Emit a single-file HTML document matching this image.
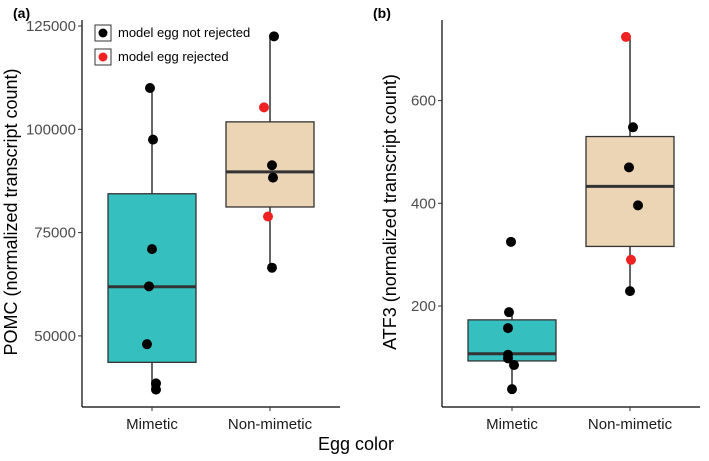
<!DOCTYPE html>
<html><head><meta charset="utf-8"><style>
body{margin:0;background:#fff;width:709px;height:456px;overflow:hidden}
svg{font-family:"Liberation Sans",sans-serif}
</style></head><body>
<svg id="c" width="709" height="456"></svg>
<script>
const categories=["Mimetic","Non-mimetic"];
const pomcTicks=[50000,75000,100000,125000];
const pomcBoxes=[{q1:43600,med:61900,q3:84400,lo:37000,hi:110000},{q1:81200,med:89700,q3:101800,lo:66500,hi:122500}];
const pomcMimetic=[110000,97500,71000,62000,48000,38500,37000];
const pomcMimeticRej=[0,0,0,0,0,0,0];
const pomcMimeticJit=[-2,1,0,-3,-5,4,4];
const pomcNon=[122500,105300,91300,88300,78900,66500];
const pomcNonRej=[0,1,0,0,1,0];
const pomcNonJit=[4,-6,2,3,-2,2];
const atfTicks=[200,400,600];
const atfBoxes=[{q1:93,med:107,q3:173,lo:38,hi:187},{q1:316,med:433,q3:530,lo:228,hi:722}];
const atfMimetic=[325,188,157,105,98,85,38];
const atfMimeticRej=[0,0,0,0,0,0,0];
const atfMimeticJit=[-1,-3,-4,-4,-4,2,0];
const atfNon=[724,548,470,396,290,229];
const atfNonRej=[1,0,0,0,1,0];
const atfNonJit=[-4,3,-1,8,1,0];

const NS="http://www.w3.org/2000/svg";
const svg=document.getElementById('c');
function mk(t,a,p){const e=document.createElementNS(NS,t);for(const k in a)e.setAttribute(k,a[k]);(p||svg).appendChild(e);return e;}
function txt(s,a,p){const e=mk('text',a,p);e.textContent=s;return e;}

function panel(o){
  const g=mk('g',{});
  
  
  const y=v=>o.y0-(v-o.v0)*o.k;
  const xs=[o.ax+70,o.ax+188];
  const ax=mk('line',{x1:o.ax,y1:20,x2:o.ax,y2:407,stroke:'#000','stroke-width':1.2},g);
  
  const bx=mk('line',{x1:o.ax,y1:407,x2:o.ax+258,y2:407,stroke:'#000','stroke-width':1.2},g);
  
  o.ticks.forEach(t=>{
    mk('line',{x1:o.ax-4,x2:o.ax,y1:y(t),y2:y(t),stroke:'#333'},g);
    const l=txt(String(t),{x:o.ax-6,y:y(t)+5,'text-anchor':'end','font-size':15,fill:'#4d4d4d'},g);
    
  });
  categories.forEach((c,i)=>{
    mk('line',{x1:xs[i],x2:xs[i],y1:407,y2:411,stroke:'#333'},g);
    const l=txt(c,{x:xs[i],y:429,'text-anchor':'middle','font-size':15,fill:'#1a1a1a'},g);
    
  });
  const fills=['#35bfbf','#ecd5b5'];
  o.boxes.forEach((b,i)=>{
    const x=xs[i];
    mk('line',{x1:x,x2:x,y1:y(b.hi),y2:y(b.lo),stroke:'#333','stroke-width':1.5},g);
    const r=mk('rect',{x:x-44,y:y(b.q3),width:88,height:y(b.q1)-y(b.q3),fill:fills[i],stroke:'#333','stroke-width':1.3},g);
    
    mk('line',{x1:x-44,x2:x+44,y1:y(b.med),y2:y(b.med),stroke:'#333','stroke-width':3},g);
  });
  o.pts.forEach((s,i)=>{
    s.v.forEach((v,j)=>{
      const p=mk('circle',{cx:xs[i]+s.j[j],cy:y(v),r:5,fill:s.r[j]?'#ee2222':'#000'},g);
      
    });
  });
  const yt=txt(o.title,{transform:`translate(${o.tx},${o.ty}) rotate(-90)`,'text-anchor':'middle','font-size':18,fill:'#000'},g);
  
  const pl=txt(o.label,{x:o.lx,y:18,'font-size':14,'font-weight':'bold'},g);
  
}
panel({name:'panel-a',ax:82,v0:125000,y0:26,k:103.3/25000,ticks:pomcTicks,boxes:pomcBoxes,
  pts:[{v:pomcMimetic,r:pomcMimeticRej,j:pomcMimeticJit},{v:pomcNon,r:pomcNonRej,j:pomcNonJit}],
  title:'POMC (normalized transcript count)',tx:17,ty:212,label:'(a)',lx:13});
panel({name:'panel-b',ax:442,v0:200,y0:306,k:102.7/200,ticks:atfTicks,boxes:atfBoxes,
  pts:[{v:atfMimetic,r:atfMimeticRej,j:atfMimeticJit},{v:atfNon,r:atfNonRej,j:atfNonJit}],
  title:'ATF3 (normalized transcript count)',tx:396,ty:212,label:'(b)',lx:373});
const lg=mk('g',{});

[['model egg not rejected','#000',33],['model egg rejected','#ee2222',57]].forEach(e=>{
  const it=mk('g',{},lg);
  
  mk('rect',{x:95,y:e[2]-8,width:16,height:16,fill:'#fff',stroke:'#333','stroke-width':1},it);
  mk('circle',{cx:103,cy:e[2],r:4.5,fill:e[1]},it);
  txt(e[0],{x:118,y:e[2]+4,'font-size':13,fill:'#000'},it);
});
const xt=txt('Egg color',{x:356,y:450,'text-anchor':'middle','font-size':18,fill:'#000'});

</script>
</body></html>
